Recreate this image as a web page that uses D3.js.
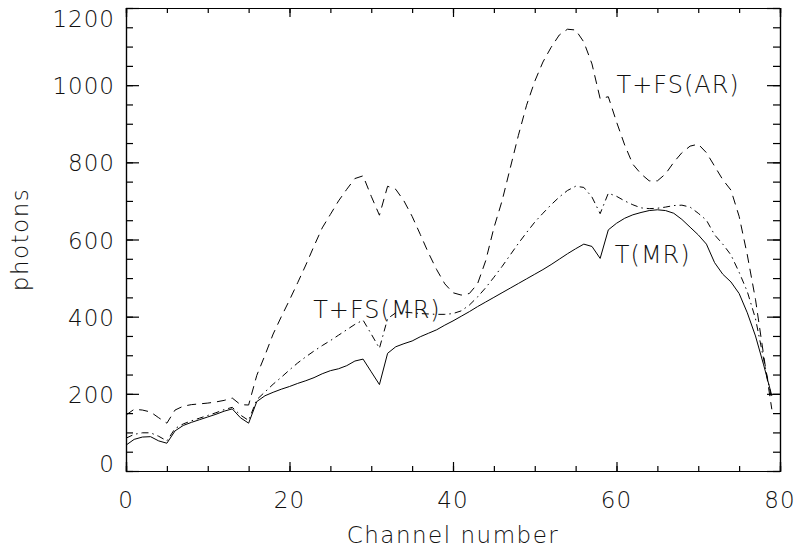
<!DOCTYPE html>
<html>
<head>
<meta charset="utf-8">
<script src="https://cdn.jsdelivr.net/npm/d3@7"></script>
<style>
  body { margin: 0; background: #fff; }
  svg { display: block; }
  .axis path, .axis line { stroke: #000; stroke-width: 1.2; }
  text { font-family: "DejaVu Sans", sans-serif; font-weight: 200; fill: #111; }
  .series { fill: none; stroke: #000; stroke-width: 1; }
</style>
</head>
<body>
<div id="container"></div>
<script>
// channel numbers (x) and the three spectra
const channels = d3.range(80);

const tMR = [67, 82, 88, 89, 78, 72, 104, 118, 126, 133,
             140, 147, 155, 161, 138, 124, 180, 195, 204, 212,
             219, 227, 234, 242, 252, 260, 265, 273, 285, 290,
             257, 224, 305, 322, 330, 337, 348, 357, 366, 378,
             389, 401, 413, 426, 438, 450, 462, 474, 486, 498,
             510, 522, 535, 549, 563, 576, 588, 582, 551, 625,
             642, 655, 664, 670, 675, 677, 675, 668, 652, 632,
             612, 588, 540, 510, 490, 460, 410, 350, 275, 195];

const tfsMR = [85, 95, 99, 99, 90, 78, 110, 122, 130, 137,
               144, 151, 159, 165, 145, 131, 185, 205, 225, 243,
               262, 280, 296, 311, 325, 338, 352, 366, 380, 391,
               355, 318, 395, 410, 412, 410, 408, 407, 406, 406,
               408, 415, 430, 451, 475, 502, 530, 560, 590, 618,
               645, 668, 690, 710, 727, 738, 735, 710, 667, 720,
               712, 700, 690, 682, 680, 681, 684, 688, 689, 684,
               668, 650, 612, 588, 560, 515, 465, 395, 290, 185];

const tfsAR = [145, 160, 158, 153, 138, 124, 158, 168, 172, 174,
               176, 179, 183, 189, 172, 171, 248, 300, 355, 400,
               443, 488, 534, 583, 630, 665, 700, 730, 758, 765,
               712, 663, 738, 730, 700, 660, 613, 565, 522, 485,
               462, 456, 460, 485, 545, 630, 700, 785, 870, 948,
               1010, 1060, 1098, 1130, 1145, 1143, 1112, 1055, 965, 970,
               905, 845, 795, 770, 752, 752, 770, 800, 825, 842,
               847, 825, 790, 755, 728, 660, 560, 445, 300, 160];

const xTicks = [0, 20, 40, 60, 80];
const yTicks = [0, 200, 400, 600, 800, 1000, 1200];

// label anchor = [channel, photons] of the text's baseline start
const seriesList = [
    { name: "T(MR)", values: tMR, dash: null, label: [59.8, 538] },
    { name: "T+FS(MR)", values: tfsMR, dash: "7,4,1.5,4", label: [22.9, 396] },
    { name: "T+FS(AR)", values: tfsAR, dash: "9,6", label: [60.0, 979] }
];

const margin = { top: 8, right: 15, bottom: 79, left: 126 };
const width = 795 - margin.left - margin.right;
const height = 550 - margin.top - margin.bottom;

const svg = d3.select('#container').append('svg')
    .attr('width', 795)
    .attr('height', 550);

const chart = svg.append('g')
    .attr('transform', `translate(${margin.left}, ${margin.top})`);

const xScale = d3.scaleLinear().domain([0, 80]).range([0, width]);
const yScale = d3.scaleLinear().domain([0, 1200]).range([height, 0]);

const xMinor = d3.range(0, 81, 5);
const yMinor = d3.range(0, 1201, 50);

// minor ticks on all four sides, pointing inwards
chart.append('g').attr('class', 'axis')
    .attr('transform', `translate(0, ${height})`)
    .call(d3.axisBottom(xScale).tickValues(xMinor).tickSize(-5).tickFormat(''));
chart.append('g').attr('class', 'axis')
    .call(d3.axisTop(xScale).tickValues(xMinor).tickSize(-5).tickFormat(''));
chart.append('g').attr('class', 'axis')
    .call(d3.axisLeft(yScale).tickValues(yMinor).tickSize(-7).tickFormat(''));
chart.append('g').attr('class', 'axis')
    .attr('transform', `translate(${width}, 0)`)
    .call(d3.axisRight(yScale).tickValues(yMinor).tickSize(-7).tickFormat(''));

// major ticks
chart.append('g').attr('class', 'axis')
    .attr('transform', `translate(0, ${height})`)
    .call(d3.axisBottom(xScale).tickValues(xTicks).tickSize(-9).tickFormat(''));
chart.append('g').attr('class', 'axis')
    .call(d3.axisTop(xScale).tickValues(xTicks).tickSize(-9).tickFormat(''));
chart.append('g').attr('class', 'axis')
    .call(d3.axisLeft(yScale).tickValues(yTicks).tickSize(-13).tickFormat(''));
chart.append('g').attr('class', 'axis')
    .attr('transform', `translate(${width}, 0)`)
    .call(d3.axisRight(yScale).tickValues(yTicks).tickSize(-13).tickFormat(''));

chart.selectAll('.axis .domain').attr('stroke-width', 1.3);

// tick labels
chart.selectAll('.xlab')
    .data(xTicks)
    .enter()
    .append('text')
    .attr('class', 'xlab')
    .attr('x', d => xScale(d))
    .attr('y', height + 37)
    .attr('text-anchor', 'middle')
    .attr('font-size', 23)
    .attr('letter-spacing', 1)
    .text(d => d);

chart.selectAll('.ylab')
    .data(yTicks)
    .enter()
    .append('text')
    .attr('class', 'ylab')
    .attr('x', -11)
    .attr('y', d => Math.min(Math.max(yScale(d), 10), height - 8) + 9)
    .attr('text-anchor', 'end')
    .attr('font-size', 23)
    .attr('letter-spacing', 1)
    .text(d => d);

// curves
const line = d3.line()
    .x((d, i) => xScale(channels[i]))
    .y(d => yScale(d));

chart.selectAll('.series')
    .data(seriesList)
    .enter()
    .append('path')
    .attr('class', 'series')
    .attr('d', s => line(s.values))
    .attr('stroke-dasharray', s => s.dash);

chart.selectAll('.serieslabel')
    .data(seriesList)
    .enter()
    .append('text')
    .attr('class', 'serieslabel')
    .attr('x', s => xScale(s.label[0]))
    .attr('y', s => yScale(s.label[1]))
    .attr('font-size', 24)
    .attr('letter-spacing', 1)
    .text(s => s.name);

// axis titles
svg.append('text')
    .attr('x', margin.left + width / 2)
    .attr('y', 543)
    .attr('text-anchor', 'middle')
    .attr('font-size', 23)
    .attr('letter-spacing', 1.5)
    .text('Channel number');

svg.append('text')
    .attr('transform', `translate(28, ${margin.top + height / 2}) rotate(-90)`)
    .attr('text-anchor', 'middle')
    .attr('font-size', 23)
    .attr('letter-spacing', 1.5)
    .text('photons');
</script>
</body>
</html>
